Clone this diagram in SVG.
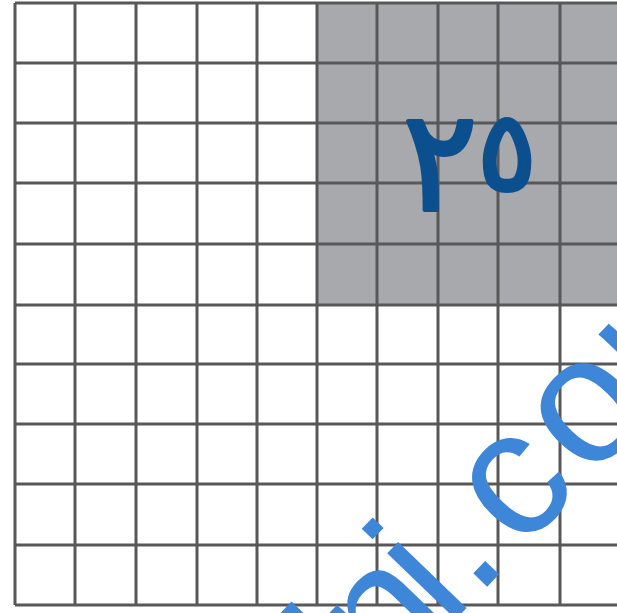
<svg xmlns="http://www.w3.org/2000/svg" width="617" height="613" viewBox="0 0 617 613">
  <style>
    .g { stroke: #58585a; stroke-width: 3; fill: none; }
    .wm { font-family: "Liberation Sans", Arial, sans-serif; font-size: 180px; fill: #3e86d8; text-anchor: middle; }
    .num { font-family: "DejaVu Sans", sans-serif; font-weight: normal; fill: #0b4f8e; stroke: #0b4f8e; stroke-width: 4; stroke-linejoin: round; text-anchor: middle; }
  </style>
  <rect width="617" height="613" fill="#ffffff"/>
  <g id="shaded">
    <rect x="317" y="3" width="300" height="302" fill="#a8a9ac"/>
  </g>
  <g id="grid" class="g">
    <path d="M15 3V605M75 3V605M136 3V605M197 3V605M257 3V605M317 3V605M377 3V605M438 3V605M498 3V605M560 3V605"/>
    <path d="M15 3H617M15 63H617M15 123H617M15 183H617M15 244H617M15 305H617M15 364H617M15 424H617M15 484H617M15 545H617M15 605H617"/>
  </g>
  <g id="label">
    <text class="num"><tspan x="440" y="210" font-size="140">٢</tspan><tspan x="507" y="190" font-size="110">٥</tspan></text>
  </g>
  <g id="watermark" transform="rotate(-46)">
    <text class="wm" x="-238" y="758">l</text>
    <text class="wm" x="-178" y="758">n</text>
    <text class="wm" x="-121" y="758">i</text>
    <text class="wm" x="-75" y="758">.</text>
    <text class="wm" x="9" y="758">c</text>
    <text class="wm" x="113" y="758">o</text>
    <text class="wm" x="238" y="758">m</text>
  </g>
</svg>
